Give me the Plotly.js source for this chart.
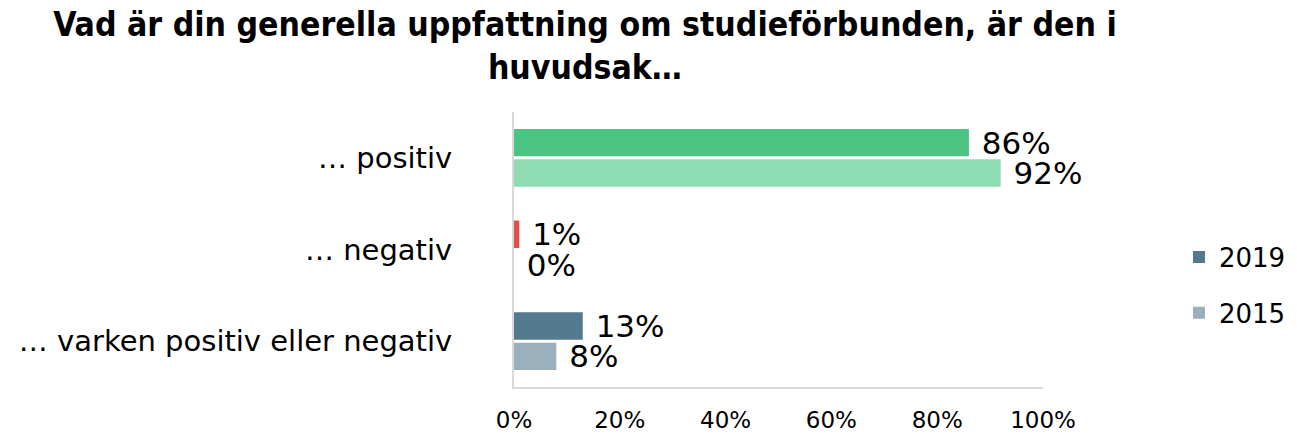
<!DOCTYPE html>
<html>
<head>
<meta charset="utf-8">
<script src="https://cdn.plot.ly/plotly-3.0.1.min.js"></script>
<style>html,body{margin:0;padding:0;background:#fff;}#chart{width:1297px;height:436px;}</style>
</head>
<body>
<div id="chart"></div>
<script>
// Categories listed bottom-to-top (y axis increases upward)
const categories = ["… varken positiv eller negativ", "… negativ", "… positiv"];
const values2019 = [13, 1, 86];
const values2015 = [8, 0, 92];
const colors2019 = ["#537A8E", "#E0504A", "#4BC482"];
const colors2015 = ["#9BB0BD", "#F2A9A6", "#8FDCB3"];
const seriesNames = ["2015", "2019"];
const tickVals = [0, 20, 40, 60, 80, 100];
const tickText = ["0%", "20%", "40%", "60%", "80%", "100%"];

const font = "DejaVu Sans, Verdana, sans-serif";
const labelFont = {family: font, size: 31, color: "#000"};

const traces = [
  {
    type: "bar", orientation: "h", name: seriesNames[0], legendgroup: "g2015", legendrank: 2,
    y: categories, x: values2015,
    marker: {color: colors2015},
    text: values2015.map(v => " " + v + "%"), textposition: "outside",
    constraintext: "none",
    textfont: labelFont, cliponaxis: false, hoverinfo: "skip"
  },
  {
    type: "bar", orientation: "h", name: seriesNames[1], legendgroup: "g2019", legendrank: 1,
    y: categories, x: values2019,
    marker: {color: colors2019},
    text: values2019.map(v => " " + v + "%"), textposition: "outside",
    constraintext: "none",
    textfont: labelFont, cliponaxis: false, hoverinfo: "skip"
  }
];

const layout = {
  width: 1297, height: 436,
  margin: {l: 514, r: 254, t: 112, b: 49, autoexpand: false},
  paper_bgcolor: "#fff", plot_bgcolor: "#fff",
  title: {
    text: "<b>Vad är din generella uppfattning om studieförbunden, är den i<br>huvudsak…</b>",
    font: {family: "DejaVu Sans Condensed, DejaVu Sans, sans-serif", size: 33.5, color: "#000"},
    x: 0.451, xanchor: "center", yref: "container", y: 0.918, yanchor: "top"
  },
  barmode: "group",
  bargap: 0.335,
  bargroupgap: 0.1,
  showlegend: true,
  legend: {
    traceorder: "grouped",
    tracegroupgap: 19,
    xref: "container", yref: "container",
    x: 0.909, xanchor: "left", y: 0.346, yanchor: "middle",
    font: {family: font, size: 26, color: "#000"}
  },
  xaxis: {
    range: [0, 100], tickvals: tickVals, ticktext: tickText,
    showgrid: false, zeroline: false,
    showline: true, linecolor: "#D9D9D9", linewidth: 2,
    ticks: "", ticklabelstandoff: 11,
    tickfont: {family: font, size: 23, color: "#000"},
    fixedrange: true
  },
  yaxis: {
    showgrid: false, zeroline: false,
    showline: true, linecolor: "#D9D9D9", linewidth: 2,
    ticks: "", ticklabelstandoff: 54,
    tickfont: {family: font, size: 29, color: "#000"},
    fixedrange: true
  }
};

Plotly.newPlot("chart", traces, layout, {displayModeBar: false, staticPlot: true});
</script>
</body>
</html>
